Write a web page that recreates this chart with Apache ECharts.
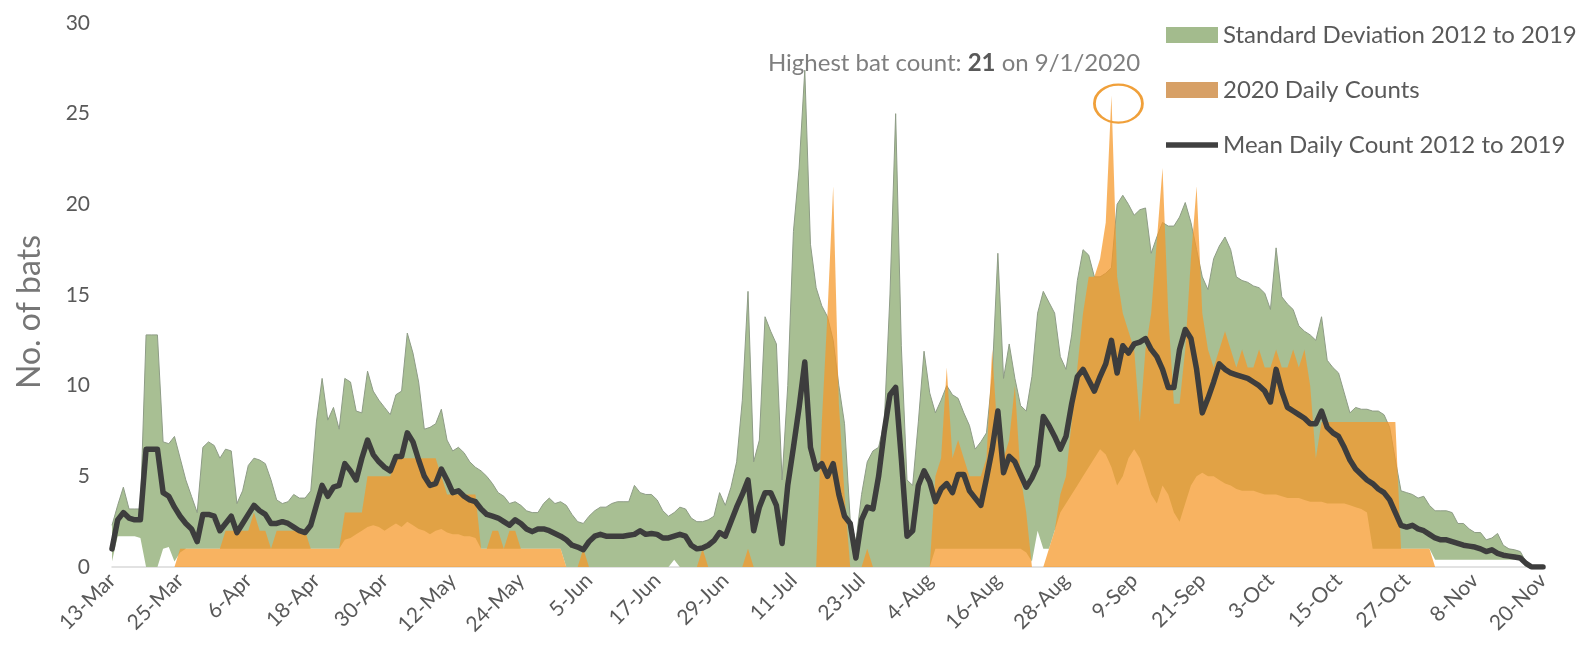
<!DOCTYPE html>
<html>
<head>
<meta charset="utf-8">
<script src="https://cdn.jsdelivr.net/npm/echarts@6/dist/echarts.min.js"></script>
<style>
  html, body { margin: 0; padding: 0; background: #fff; }
  #chart { width: 1588px; height: 652px; }
</style>
</head>
<body>
<div id="chart"></div>
<script>
// daily categories, 13-Mar .. 20-Nov (2020)
var months = ['Jan','Feb','Mar','Apr','May','Jun','Jul','Aug','Sep','Oct','Nov','Dec'];
var days = [];
var dt = new Date(2020, 2, 13);
for (var i = 0; i < 253; i++) {
  days.push(dt.getDate() + '-' + months[dt.getMonth()]);
  dt.setDate(dt.getDate() + 1);
}

// mean daily count 2012-2019 (one row = 12 days)
var meanDaily = [
  1.0, 2.6, 3.0, 2.7, 2.6, 2.6, 6.5, 6.5, 6.5, 4.1, 3.9, 3.3,
  2.8, 2.4, 2.1, 1.4, 2.9, 2.9, 2.8, 2.0, 2.4, 2.8, 1.9, 2.4,
  2.9, 3.4, 3.1, 2.9, 2.4, 2.4, 2.5, 2.4, 2.2, 2.0, 1.9, 2.3,
  3.4, 4.5, 3.9, 4.4, 4.5, 5.7, 5.3, 4.8, 6.0, 7.0, 6.2, 5.8,
  5.5, 5.3, 6.1, 6.1, 7.4, 6.9, 5.9, 5.0, 4.5, 4.6, 5.4, 4.8,
  4.1, 4.2, 3.9, 3.7, 3.6, 3.2, 2.9, 2.8, 2.7, 2.5, 2.3, 2.6,
  2.4, 2.1, 1.95, 2.1, 2.1, 2.0, 1.85, 1.7, 1.5, 1.2, 1.1, 0.95,
  1.4, 1.7, 1.8, 1.7, 1.7, 1.7, 1.7, 1.75, 1.8, 2.0, 1.8, 1.85,
  1.8, 1.6, 1.6, 1.7, 1.8, 1.7, 1.2, 1.0, 1.05, 1.2, 1.45, 1.9,
  1.7, 2.5, 3.3, 4.0, 4.8, 2.0, 3.3, 4.1, 4.1, 3.4, 1.3, 4.5,
  6.6, 8.8, 11.3, 6.6, 5.4, 5.7, 5.0, 5.7, 4.0, 2.8, 2.4, 0.5,
  2.6, 3.3, 3.2, 5.0, 7.5, 9.5, 9.9, 6.0, 1.7, 2.0, 4.5, 5.3,
  4.7, 3.6, 4.3, 4.6, 4.1, 5.1, 5.1, 4.2, 3.8, 3.4, 4.9, 6.5,
  8.6, 5.2, 6.1, 5.8, 5.1, 4.4, 4.9, 5.6, 8.3, 7.8, 7.2, 6.5,
  7.2, 9.0, 10.5, 10.9, 10.3, 9.7, 10.5, 11.2, 12.5, 10.7, 12.2, 11.8,
  12.3, 12.4, 12.6, 12.0, 11.6, 10.9, 9.9, 9.9, 12.0, 13.1, 12.6, 10.9,
  8.5, 9.3, 10.2, 11.2, 10.9, 10.7, 10.6, 10.5, 10.4, 10.2, 10.0, 9.7,
  9.1, 10.9, 9.7, 8.8, 8.6, 8.4, 8.2, 7.9, 7.9, 8.6, 7.7, 7.4,
  7.2, 6.6, 5.9, 5.4, 5.1, 4.8, 4.6, 4.3, 4.1, 3.7, 3.0, 2.3,
  2.2, 2.3, 2.1, 2.0, 1.8, 1.6, 1.5, 1.5, 1.4, 1.3, 1.2, 1.15,
  1.1, 1.0, 0.85, 0.95, 0.75, 0.65, 0.6, 0.55, 0.5, 0.2, 0, 0,
  0
];

// top of the standard deviation band
var sdUpper = [
  2.3, 3.4, 4.4, 3.2, 3.2, 3.2, 12.8, 12.8, 12.8, 6.9, 6.8, 7.2,
  6.0, 4.8, 3.9, 3.0, 6.6, 6.9, 6.7, 6.0, 6.5, 6.4, 3.5, 4.2,
  5.6, 6.0, 5.9, 5.7, 4.8, 3.7, 3.5, 3.6, 4.0, 3.8, 3.8, 4.2,
  8.0, 10.4, 8.1, 8.8, 7.6, 10.4, 10.2, 8.6, 8.5, 10.8, 9.7, 9.2,
  8.8, 8.4, 9.5, 9.7, 12.9, 11.8, 10.2, 7.6, 7.7, 7.9, 8.7, 7.0,
  6.4, 6.6, 6.3, 5.8, 5.5, 5.3, 5.0, 4.6, 4.1, 3.9, 3.5, 3.6,
  3.4, 3.1, 3.0, 3.0, 3.5, 3.8, 3.5, 3.6, 3.4, 2.9, 2.5, 2.4,
  2.8, 3.1, 3.3, 3.3, 3.5, 3.6, 3.6, 3.6, 4.5, 4.1, 4.0, 4.0,
  3.7, 3.1, 2.8, 3.0, 3.3, 3.2, 2.7, 2.5, 2.5, 2.6, 2.8, 4.1,
  3.4, 4.4, 5.8, 9.2, 15.2, 5.8, 7.0, 13.8, 13.0, 12.3, 4.8, 10.0,
  18.5, 22.0, 27.4, 17.8, 15.4, 14.4, 13.8, 12.5, 10.0, 7.9, 2.6, 1.4,
  4.0, 5.8, 6.4, 6.6, 8.0, 15.0, 25.0, 12.2, 4.8, 4.5, 8.0, 11.9,
  9.6, 8.5, 9.2, 10.0, 9.5, 9.3, 8.5, 7.8, 6.5, 6.9, 7.4, 10.5,
  17.3, 10.4, 12.3, 10.4, 8.9, 8.6, 10.5, 14.0, 15.2, 14.6, 14.0, 11.6,
  10.9, 12.8, 15.8, 17.5, 17.2, 16.0, 16.0, 16.2, 16.5, 20.0, 20.5, 20.0,
  19.4, 19.7, 19.8, 17.3, 18.2, 19.0, 18.8, 18.8, 19.3, 20.1, 19.0, 17.5,
  16.0, 15.3, 17.0, 17.7, 18.2, 17.5, 16.0, 15.8, 15.7, 15.5, 15.4, 15.1,
  14.2, 17.6, 14.9, 14.5, 14.2, 13.3, 13.0, 12.8, 12.5, 13.8, 11.4, 11.0,
  10.7, 9.6, 8.5, 8.8, 8.7, 8.7, 8.6, 8.6, 8.4, 7.7, 5.9, 4.2,
  4.1, 4.0, 3.8, 3.9, 3.4, 3.1, 3.1, 3.1, 3.0, 2.4, 2.4, 2.1,
  1.9, 1.9, 1.5, 1.6, 1.85, 1.2, 1.0, 0.95, 0.85, 0.3, 0, 0,
  0
];

// bottom of the standard deviation band (clipped at 0)
var sdLower = [
  0.3, 1.7, 1.7, 1.7, 1.7, 1.6, 0, 0, 0, 1.0, 1.1, 0.3,
  0.8, 1.0, 1.0, 1.0, 1.0, 1.0, 1.0, 1.0, 1.0, 1.0, 1.0, 1.0,
  1.0, 1.0, 1.0, 1.0, 1.0, 1.0, 1.0, 1.0, 1.0, 1.0, 1.0, 1.0,
  1.0, 1.0, 1.0, 1.0, 1.0, 1.5, 1.6, 1.8, 2.0, 2.2, 2.3, 2.2,
  2.0, 2.2, 2.4, 2.2, 2.5, 2.3, 2.1, 2.0, 1.8, 2.0, 2.1, 1.9,
  1.8, 1.8, 1.7, 1.7, 1.6, 1.0, 1.0, 1.0, 1.0, 1.0, 1.0, 1.0,
  1.0, 1.0, 1.0, 1.0, 1.0, 1.0, 1.0, 1.0, 0, 0, 0, 0,
  0, 0, 0, 0, 0, 0, 0, 0, 0, 0, 0, 0,
  0, 0, 0, 0.4, 0, 0, 0, 0, 0, 0, 0, 0,
  0, 0, 0, 0, 0, 0, 0, 0, 0, 0, 0, 0,
  0, 0, 0, 0, 0, 0, 0, 0, 0, 0, 0, 0,
  0, 0, 0, 0, 0, 0, 0, 0, 0, 0, 0, 0,
  0, 1.0, 1.0, 1.0, 1.0, 1.0, 1.0, 1.0, 1.0, 1.0, 1.0, 1.0,
  1.0, 1.0, 1.0, 1.0, 1.0, 0.8, 0.3, 2.0, 1.0, 1.0, 2.0, 3.0,
  3.5, 4.0, 4.5, 5.0, 5.5, 6.0, 6.5, 6.2, 5.5, 4.5, 5.0, 6.0,
  6.5, 6.0, 5.0, 4.0, 3.5, 4.5, 4.0, 3.0, 2.5, 3.5, 4.5, 5.0,
  5.2, 5.0, 5.0, 4.8, 4.6, 4.5, 4.3, 4.2, 4.2, 4.2, 4.1, 4.0,
  4.0, 4.0, 3.9, 3.8, 3.8, 3.8, 3.7, 3.6, 3.6, 3.6, 3.5, 3.5,
  3.5, 3.5, 3.4, 3.3, 3.2, 3.0, 1.0, 1.0, 1.0, 1.0, 1.0, 1.0,
  1.0, 1.0, 1.0, 1.0, 1.0, 0.4, 0.4, 0.4, 0.4, 0.4, 0.4, 0.4,
  0.4, 0.4, 0.4, 0.4, 0.4, 0.4, 0.4, 0.4, 0.4, 0, 0, 0,
  0
];

// 2020 daily counts
var counts2020 = [
  0, 0, 0, 0, 0, 0, 0, 0, 0, 0, 0, 0,
  1, 1, 1, 1, 1, 1, 1, 1, 2, 2, 2, 2,
  2, 3, 2, 2, 1, 2, 2, 2, 2, 2, 2, 1,
  1, 1, 1, 1, 1, 3, 3, 3, 3, 5, 5, 5,
  5, 5, 6, 6, 6, 6, 6, 6, 6, 6, 5, 4,
  4, 4, 4, 4, 4, 1, 1, 2, 2, 1, 2, 2,
  1, 1, 1, 1, 1, 1, 1, 1, 0, 0, 0, 1,
  0, 0, 0, 0, 0, 0, 0, 0, 0, 0, 0, 0,
  0, 0, 0, 0, 0, 0, 0, 0, 1, 0, 0, 0,
  0, 0, 0, 0, 1, 0, 0, 0, 0, 0, 0, 0,
  0, 0, 0, 0, 0, 8, 14, 21, 9, 4, 0, 0,
  0, 1, 0, 0, 0, 0, 0, 0, 0, 0, 0, 0,
  0, 5, 6, 11, 6, 7, 6, 5, 5, 5, 6, 12,
  7, 6, 7, 10, 5, 3, 0, 0, 0, 1, 2, 4,
  5, 8, 11, 14, 16, 16, 17, 19, 26, 16, 14, 13,
  12, 8, 12, 14, 18, 22, 14, 9, 9, 12, 17, 21,
  14, 12, 11, 12, 13, 12, 11, 12, 11, 11, 12, 11,
  11, 12, 11, 11, 12, 11, 12, 10, 6, 8, 8, 8,
  8, 8, 8, 8, 8, 8, 8, 8, 8, 8, 8, 1,
  1, 1, 1, 1, 1, 0, 0, 0, 0, 0, 0, 0,
  0, 0, 0, 0, 0, 0, 0, 0, 0, 0, 0, 0,
  0
];

var bandHeight = sdUpper.map(function (u, i) {
  return Math.round((u - sdLower[i]) * 100) / 100;
});

var FONT = 'Lato';
var myChart = echarts.init(document.getElementById('chart'));
myChart.setOption({
  animation: false,
  backgroundColor: '#ffffff',
  title: {
    text: '{a|Highest bat count: }{b|21}{a| on 9/1/2020}',
    left: 949,
    textAlign: 'center',
    top: 46,
    textStyle: {
      fontWeight: 'normal',
      rich: {
        a: { fontSize: 24, color: '#7f7f7f', fontWeight: 'normal', fontFamily: FONT },
        b: { fontSize: 24, color: '#595959', fontWeight: 'bold', fontFamily: FONT }
      }
    }
  },
  legend: {
    orient: 'vertical',
    left: 1161,
    top: 17,
    itemWidth: 52,
    itemHeight: 16,
    itemGap: 29,
    symbolKeepAspect: true,
    textStyle: { fontSize: 24, lineHeight: 26, color: '#595959', fontFamily: FONT },
    data: [
      { name: 'Standard Deviation 2012 to 2019', icon: 'rect' },
      { name: '2020 Daily Counts', icon: 'rect' },
      { name: 'Mean Daily Count 2012 to 2019', icon: 'path://M0,0L104,0L104,11L0,11Z',
        itemStyle: { color: '#404040' } }
    ]
  },
  grid: { left: 112, right: 45, top: 23, bottom: 85 },
  xAxis: {
    type: 'category',
    data: days,
    boundaryGap: false,
    axisTick: { show: false },
    axisLine: { lineStyle: { color: '#d9d9d9', width: 1.5 } },
    axisLabel: {
      interval: 11,
      rotate: 45,
      fontSize: 21,
      color: '#595959',
      fontFamily: FONT,
      margin: 10
    },
    splitLine: { show: false }
  },
  yAxis: {
    type: 'value',
    min: 0,
    max: 30,
    interval: 5,
    name: 'No. of bats',
    nameLocation: 'middle',
    nameGap: 66,
    nameTextStyle: { fontSize: 32, color: '#767676', fontFamily: FONT, padding: [0, 34, 0, 0] },
    axisLine: { show: false },
    axisTick: { show: false },
    splitLine: { show: false },
    axisLabel: { fontSize: 21, color: '#595959', fontFamily: FONT, margin: 22 }
  },
  series: [
    {
      name: 'sdBase',
      type: 'line',
      stack: 'sd',
      data: sdLower,
      symbol: 'none',
      silent: true,
      lineStyle: { opacity: 0 },
      areaStyle: { opacity: 0 },
      z: 1
    },
    {
      name: 'Standard Deviation 2012 to 2019',
      type: 'line',
      stack: 'sd',
      data: bandHeight,
      symbol: 'none',
      itemStyle: { color: '#a3bb8d' },
      lineStyle: { color: '#8e9c86', width: 1 },
      areaStyle: { color: '#a8bf93', opacity: 1 },
      z: 2
    },
    {
      name: '2020 Daily Counts',
      type: 'line',
      data: counts2020,
      symbol: 'none',
      itemStyle: { color: '#d7a066' },
      lineStyle: { opacity: 0 },
      areaStyle: { color: 'rgba(245,152,42,0.74)', opacity: 1 },
      markPoint: {
        symbol: 'circle',
        symbolSize: [48, 38],
        symbolOffset: [7, 8],
        itemStyle: { color: 'rgba(0,0,0,0)', borderColor: '#f0a03a', borderWidth: 2.5 },
        label: { show: false },
        data: [{ type: 'max' }]
      },
      z: 3
    },
    {
      name: 'Mean Daily Count 2012 to 2019',
      type: 'line',
      data: meanDaily,
      symbol: 'none',
      itemStyle: { color: '#404040' },
      lineStyle: { color: '#3d3d3d', width: 5.5, join: 'round', cap: 'round' },
      z: 4
    }
  ]
});
window.addEventListener('resize', function () {
  myChart.resize();
});
</script>
</body>
</html>
